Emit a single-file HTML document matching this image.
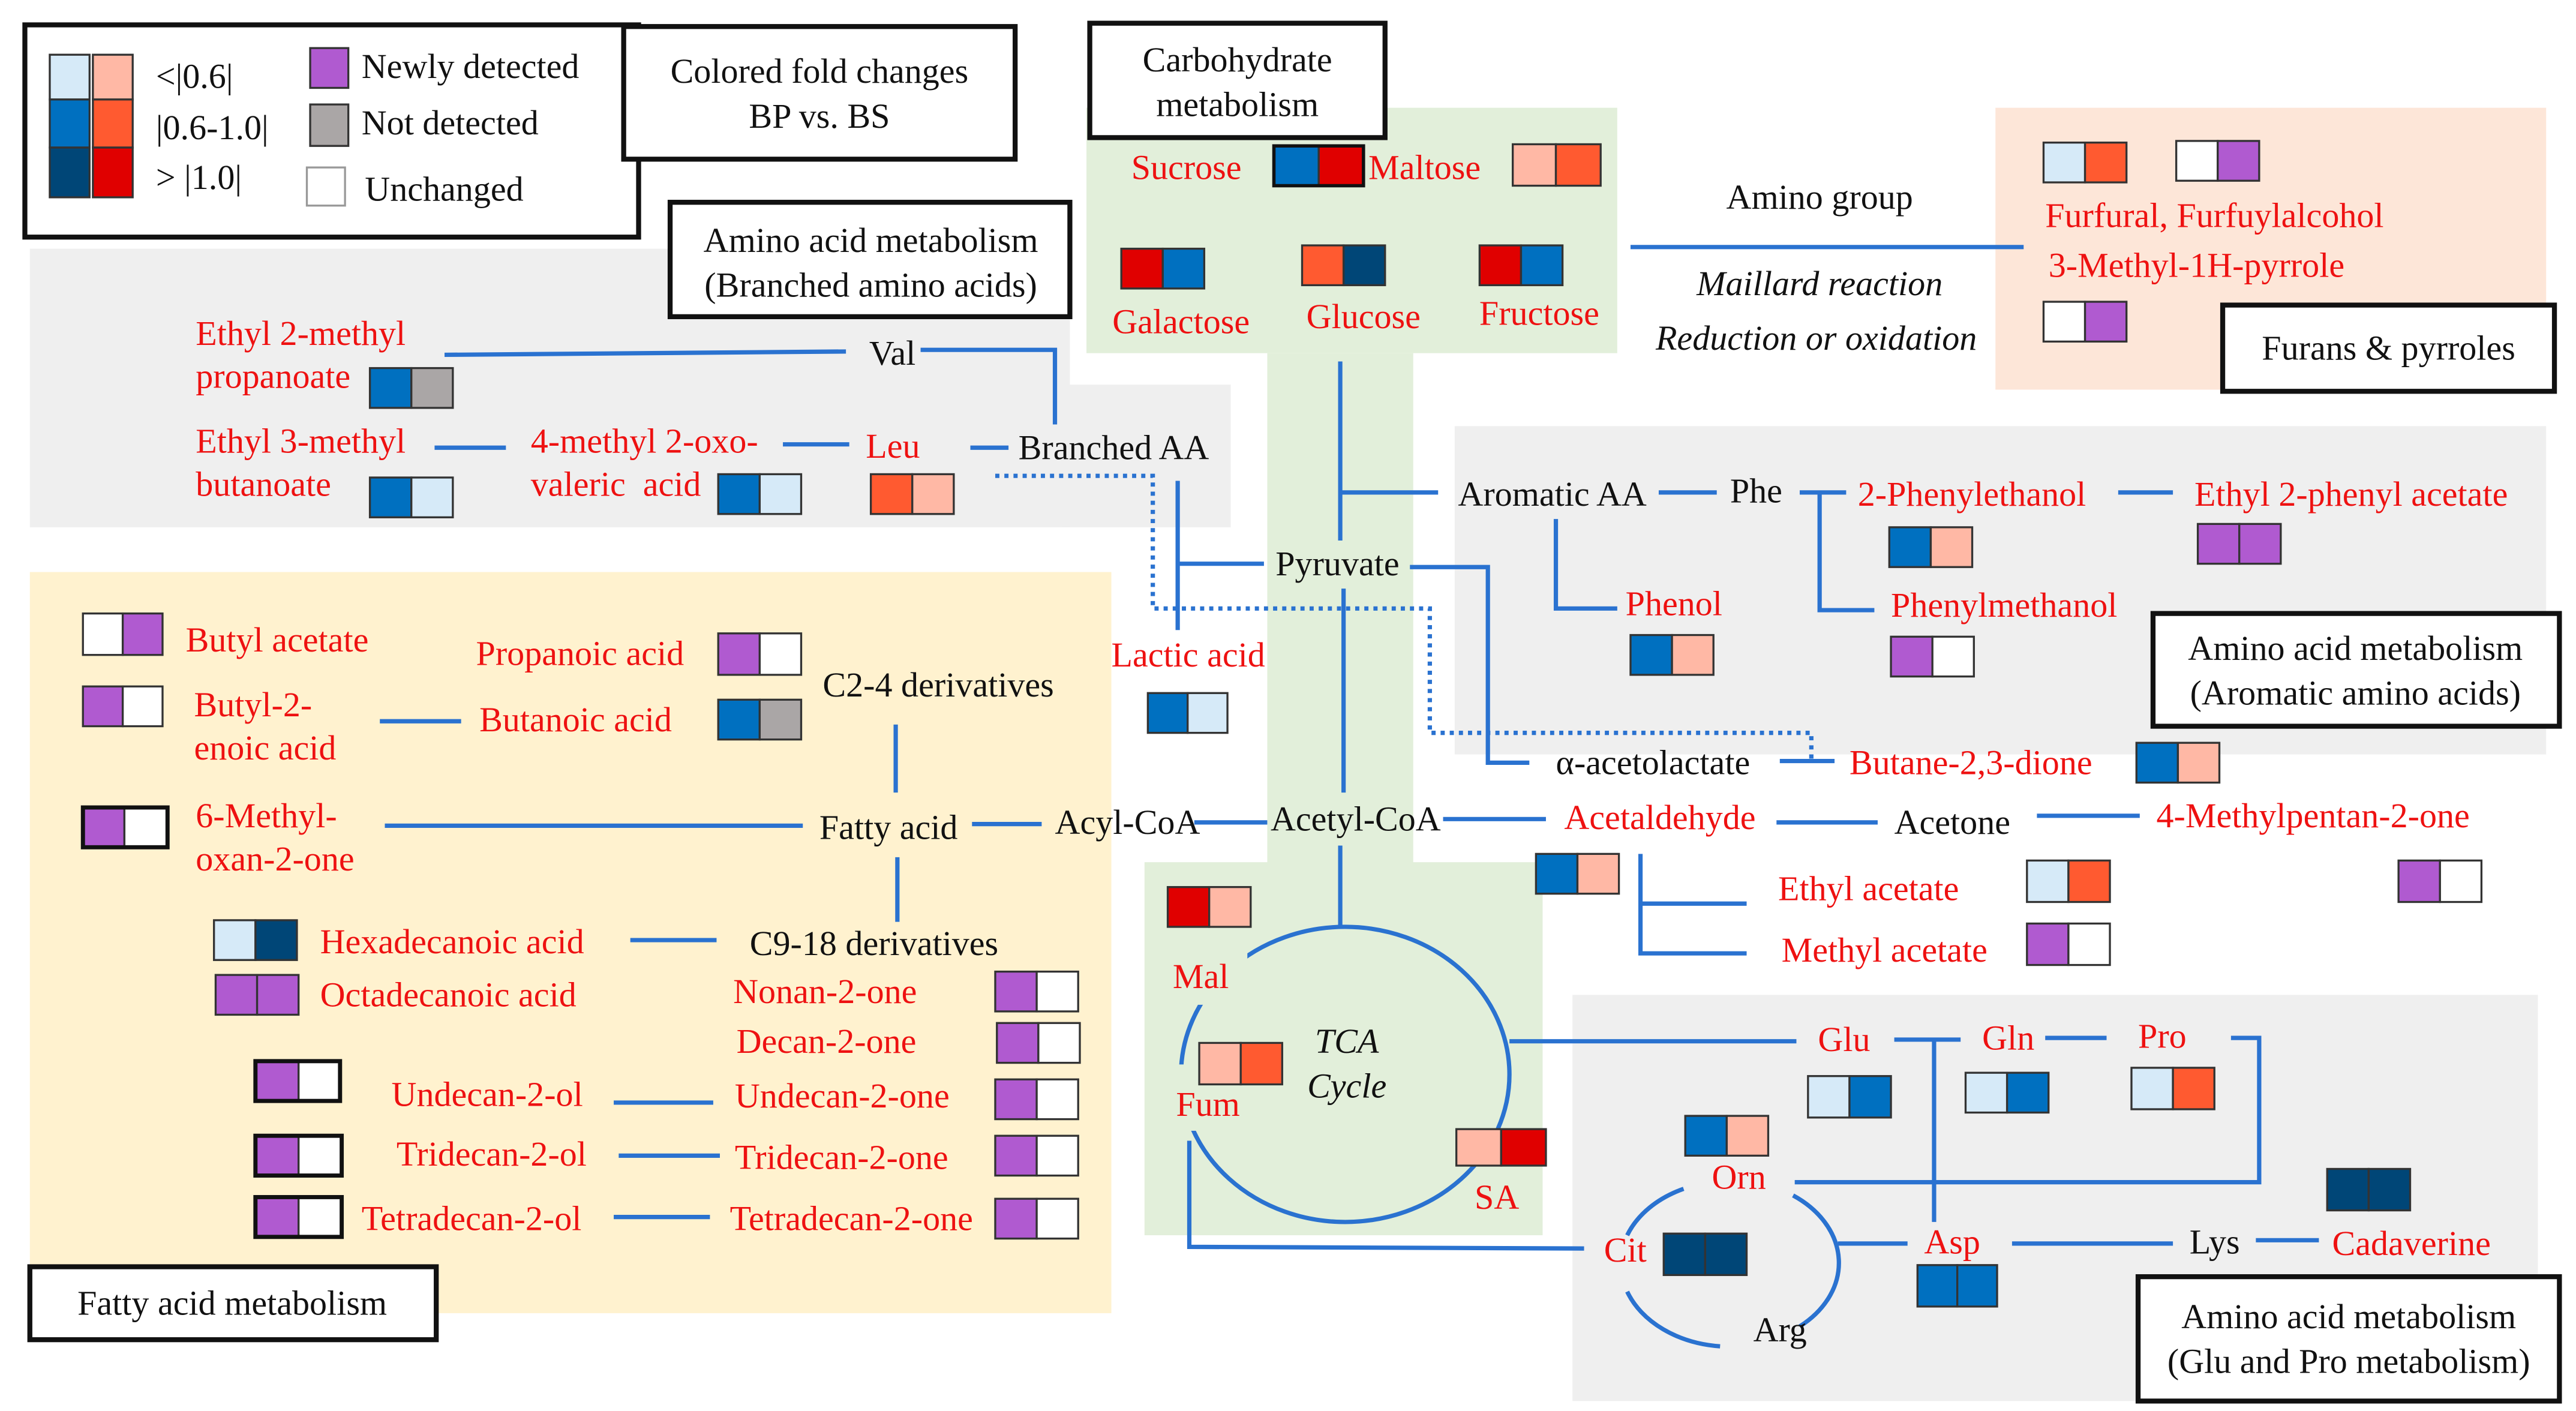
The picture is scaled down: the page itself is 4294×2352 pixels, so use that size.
<!DOCTYPE html>
<html><head><meta charset="utf-8"><style>
html,body{margin:0;padding:0;background:#fff;}
svg{display:block;}
text{font-family:"Liberation Serif","DejaVu Serif",serif;font-size:21px;}
.r{fill:#ee1111;}
.k{fill:#111;}
.i{font-style:italic;}
.l{stroke:#2a72d0;stroke-width:2.6;fill:none;}
.d{stroke:#2a72d0;stroke-width:2.6;fill:none;stroke-dasharray:2.5 3;}
.bx{fill:#fff;stroke:#111;stroke-width:3;}
.s{stroke:#333;stroke-width:1.2;}
</style></head><body>
<svg width="4294" height="2352" viewBox="0 0 1553 851" preserveAspectRatio="none" xmlns="http://www.w3.org/2000/svg">
<!-- backgrounds -->
<rect x="18" y="150" width="627" height="168" fill="#efefef"/>
<rect x="640" y="232" width="102" height="86" fill="#efefef"/>
<rect x="18" y="345" width="652" height="447" fill="#fff2cf"/>
<rect x="655" y="65" width="320" height="148" fill="#e2efda"/>
<rect x="764" y="213" width="88" height="310" fill="#e2efda"/>
<rect x="690" y="520" width="240" height="225" fill="#e2efda"/>
<rect x="877" y="257" width="658" height="198" fill="#efefef"/>
<rect x="948" y="600" width="582" height="245" fill="#efefef"/>
<rect x="1203" y="65" width="332" height="170" fill="#fde6d8"/>

<!-- legend -->
<rect class="bx" x="15" y="15" width="370" height="128"/>
<rect x="30" y="33" width="24" height="27" fill="#d6eaf8" class="s"/>
<rect x="56" y="33" width="24" height="27" fill="#ffb8a5" class="s"/>
<rect x="30" y="60" width="24" height="29" fill="#0070c0" class="s"/>
<rect x="56" y="60" width="24" height="29" fill="#ff5a30" class="s"/>
<rect x="30" y="89" width="24" height="30" fill="#004677" class="s"/>
<rect x="56" y="89" width="24" height="30" fill="#e00000" class="s"/>
<text x="94" y="53" class="k">&lt;|0.6|</text>
<text x="94" y="84" class="k">|0.6-1.0|</text>
<text x="94" y="114" class="k">&gt; |1.0|</text>
<rect x="187" y="29" width="23" height="24" fill="#b05ad0" class="s"/>
<rect x="187" y="63" width="23" height="25" fill="#aaa6a6" class="s"/>
<rect x="185" y="101" width="23" height="23" fill="#fff" stroke="#999" stroke-width="1.2"/>
<text x="218" y="47" class="k">Newly detected</text>
<text x="218" y="81" class="k">Not detected</text>
<text x="220" y="121" class="k">Unchanged</text>

<rect class="bx" x="376" y="16" width="236" height="80"/>
<text x="494" y="50" class="k" text-anchor="middle">Colored fold changes</text>
<text x="494" y="77" class="k" text-anchor="middle">BP vs. BS</text>

<rect class="bx" x="657" y="14" width="178" height="69"/>
<text x="746" y="43" class="k" text-anchor="middle">Carbohydrate</text>
<text x="746" y="70" class="k" text-anchor="middle">metabolism</text>

<rect class="bx" x="404" y="122" width="241" height="69"/>
<text x="525" y="152" class="k" text-anchor="middle">Amino acid metabolism</text>
<text x="525" y="179" class="k" text-anchor="middle">(Branched amino acids)</text>

<!-- carbohydrates -->
<text x="682" y="108" class="r">Sucrose</text>
<rect x="768" y="88" width="27" height="24" fill="#0070c0" class="s"/><rect x="795" y="88" width="27" height="24" fill="#e00000" class="s"/>
<rect x="768" y="88" width="54" height="24" fill="none" stroke="#111" stroke-width="2"/>
<text x="825" y="108" class="r">Maltose</text>
<rect x="912" y="87" width="26" height="25" fill="#ffb8a5" class="s"/><rect x="938" y="87" width="27" height="25" fill="#ff5a30" class="s"/>
<rect x="676" y="150" width="25" height="24" fill="#e00000" class="s"/><rect x="701" y="150" width="25" height="24" fill="#0070c0" class="s"/>
<text x="712" y="201" class="r" text-anchor="middle">Galactose</text>
<rect x="785" y="148" width="25" height="24" fill="#ff5a30" class="s"/><rect x="810" y="148" width="25" height="24" fill="#004677" class="s"/>
<text x="822" y="198" class="r" text-anchor="middle">Glucose</text>
<rect x="892" y="148" width="25" height="24" fill="#e00000" class="s"/><rect x="917" y="148" width="25" height="24" fill="#0070c0" class="s"/>
<text x="928" y="196" class="r" text-anchor="middle">Fructose</text>

<!-- branched AA -->
<text x="118" y="208" class="r">Ethyl 2-methyl</text>
<text x="118" y="234" class="r">propanoate</text>
<rect x="223" y="222" width="25" height="24" fill="#0070c0" class="s"/><rect x="248" y="222" width="25" height="24" fill="#aaa6a6" class="s"/>
<path class="l" d="M268,214 L510,212"/>
<text x="524" y="220" class="k">Val</text>
<path class="l" d="M555,211 L636,211 L636,256"/>
<text x="118" y="273" class="r">Ethyl 3-methyl</text>
<text x="118" y="299" class="r">butanoate</text>
<rect x="223" y="288" width="25" height="24" fill="#0070c0" class="s"/><rect x="248" y="288" width="25" height="24" fill="#d6eaf8" class="s"/>
<path class="l" d="M262,270 L305,270"/>
<text x="320" y="273" class="r">4-methyl 2-oxo-</text>
<text x="320" y="299" class="r" xml:space="preserve">valeric  acid</text>
<rect x="433" y="286" width="25" height="24" fill="#0070c0" class="s"/><rect x="458" y="286" width="25" height="24" fill="#d6eaf8" class="s"/>
<path class="l" d="M472,268 L512,268"/>
<text x="522" y="276" class="r">Leu</text>
<rect x="525" y="286" width="25" height="24" fill="#ff5a30" class="s"/><rect x="550" y="286" width="25" height="24" fill="#ffb8a5" class="s"/>
<path class="l" d="M585,270 L608,270"/>
<text x="614" y="277" class="k">Branched AA</text>

<!-- dotted path -->
<path class="d" d="M600,287 L695,287 L695,367 L862,367 L862,442 L1092,442 L1092,458"/>

<!-- pyruvate etc -->
<path class="l" d="M808,218 L808,326"/>
<path class="l" d="M808,297 L867,297"/>
<path class="l" d="M710,290 L710,380"/>
<path class="l" d="M710,340 L762,340"/>
<text x="769" y="347" class="k">Pyruvate</text>
<path class="l" d="M850,342 L897,342 L897,460 L922,460"/>
<text x="938" y="467" class="k">α-acetolactate</text>
<path class="l" d="M1073,459 L1106,459"/>
<text x="1115" y="467" class="r">Butane-2,3-dione</text>
<rect x="1288" y="448" width="25" height="24" fill="#0070c0" class="s"/><rect x="1313" y="448" width="25" height="24" fill="#ffb8a5" class="s"/>
<path class="l" d="M810,355 L810,478"/>
<text x="670" y="402" class="r">Lactic acid</text>
<rect x="692" y="418" width="24" height="24" fill="#0070c0" class="s"/><rect x="716" y="418" width="24" height="24" fill="#d6eaf8" class="s"/>
<text x="766" y="501" class="k">Acetyl-CoA</text>
<path class="l" d="M720,496 L764,496"/>
<text x="636" y="503" class="k">Acyl-CoA</text>
<path class="l" d="M586,497 L628,497"/>
<path class="l" d="M870,494 L932,494"/>
<text x="943" y="500" class="r">Acetaldehyde</text>
<rect x="926" y="515" width="25" height="24" fill="#0070c0" class="s"/><rect x="951" y="515" width="25" height="24" fill="#ffb8a5" class="s"/>
<path class="l" d="M1071,496 L1132,496"/>
<text x="1142" y="503" class="k">Acetone</text>
<path class="l" d="M1228,492 L1290,492"/>
<text x="1300" y="499" class="r">4-Methylpentan-2-one</text>
<rect x="1446" y="519" width="25" height="25" fill="#b05ad0" class="s"/><rect x="1471" y="519" width="25" height="25" fill="#fff" class="s"/>
<path class="l" d="M989,515 L989,575 L1053,575 M989,545 L1053,545"/>
<text x="1072" y="543" class="r">Ethyl acetate</text>
<rect x="1222" y="519" width="25" height="25" fill="#d6eaf8" class="s"/><rect x="1247" y="519" width="25" height="25" fill="#ff5a30" class="s"/>
<text x="1074" y="580" class="r">Methyl acetate</text>
<rect x="1222" y="557" width="25" height="25" fill="#b05ad0" class="s"/><rect x="1247" y="557" width="25" height="25" fill="#fff" class="s"/>

<!-- TCA -->
<path class="l" d="M808,510 L808,559"/>
<ellipse class="l" cx="811" cy="648" rx="99" ry="89"/>
<rect x="696" y="570" width="56" height="36" fill="#e2efda"/>
<rect x="698" y="642" width="62" height="40" fill="#e2efda"/>
<rect x="704" y="535" width="25" height="24" fill="#e00000" class="s"/><rect x="729" y="535" width="25" height="24" fill="#ffb8a5" class="s"/>
<text x="707" y="596" class="r">Mal</text>
<rect x="723" y="629" width="25" height="25" fill="#ffb8a5" class="s"/><rect x="748" y="629" width="25" height="25" fill="#ff5a30" class="s"/>
<text x="709" y="673" class="r">Fum</text>
<text x="812" y="635" class="k i" text-anchor="middle">TCA</text>
<text x="812" y="662" class="k i" text-anchor="middle">Cycle</text>
<rect x="878" y="681" width="27" height="22" fill="#ffb8a5" class="s"/><rect x="905" y="681" width="27" height="22" fill="#e00000" class="s"/>
<text x="889" y="729" class="r">SA</text>
<path class="l" d="M717,688 L717,752 L955,753"/>

<!-- Glu / Pro -->
<path class="l" d="M910,628 L1083,628"/>
<text x="1096" y="634" class="r">Glu</text>
<rect x="1090" y="649" width="25" height="25" fill="#d6eaf8" class="s"/><rect x="1115" y="649" width="25" height="25" fill="#0070c0" class="s"/>
<path class="l" d="M1142,627 L1182,627 M1166,627 L1166,737"/>
<text x="1195" y="633" class="r">Gln</text>
<rect x="1185" y="647" width="25" height="24" fill="#d6eaf8" class="s"/><rect x="1210" y="647" width="25" height="24" fill="#0070c0" class="s"/>
<path class="l" d="M1233,626 L1270,626"/>
<text x="1289" y="632" class="r">Pro</text>
<rect x="1285" y="644" width="25" height="25" fill="#d6eaf8" class="s"/><rect x="1310" y="644" width="25" height="25" fill="#ff5a30" class="s"/>
<path class="l" d="M1345,626 L1362,626 L1362,713 L1082,713"/>
<rect x="1016" y="673" width="25" height="24" fill="#0070c0" class="s"/><rect x="1041" y="673" width="25" height="24" fill="#ffb8a5" class="s"/>
<text x="1032" y="717" class="r">Orn</text>
<path class="l" d="M1081,721 A66,50 0 0 1 1085,800"/>
<path class="l" d="M1037,812 A66,50 0 0 1 981,779"/>
<path class="l" d="M981,745 A66,50 0 0 1 1015,717"/>
<text x="967" y="761" class="r">Cit</text>
<rect x="1003" y="744" width="25" height="25" fill="#004677" class="s"/><rect x="1028" y="744" width="25" height="25" fill="#004677" class="s"/>
<text x="1057" y="809" class="k">Arg</text>
<path class="l" d="M1108,750 L1150,750"/>
<text x="1160" y="756" class="r">Asp</text>
<rect x="1156" y="763" width="24" height="25" fill="#0070c0" class="s"/><rect x="1180" y="763" width="24" height="25" fill="#0070c0" class="s"/>
<path class="l" d="M1213,750 L1310,750"/>
<text x="1320" y="756" class="k">Lys</text>
<path class="l" d="M1360,748 L1398,748"/>
<text x="1406" y="757" class="r">Cadaverine</text>
<rect x="1403" y="705" width="25" height="25" fill="#004677" class="s"/><rect x="1428" y="705" width="25" height="25" fill="#004677" class="s"/>
<rect class="bx" x="1289" y="770" width="254" height="75"/>
<text x="1416" y="801" class="k" text-anchor="middle">Amino acid metabolism</text>
<text x="1416" y="828" class="k" text-anchor="middle">(Glu and Pro metabolism)</text>

<!-- aromatic -->
<text x="879" y="305" class="k">Aromatic AA</text>
<path class="l" d="M1000,297 L1035,297"/>
<text x="1043" y="303" class="k">Phe</text>
<path class="l" d="M1085,297 L1113,297 M1097,297 L1097,368 L1130,368"/>
<text x="1120" y="305" class="r">2-Phenylethanol</text>
<rect x="1139" y="318" width="25" height="24" fill="#0070c0" class="s"/><rect x="1164" y="318" width="25" height="24" fill="#ffb8a5" class="s"/>
<path class="l" d="M1277,297 L1310,297"/>
<text x="1323" y="305" class="r">Ethyl 2-phenyl acetate</text>
<rect x="1325" y="316" width="25" height="24" fill="#b05ad0" class="s"/><rect x="1350" y="316" width="25" height="24" fill="#b05ad0" class="s"/>
<text x="1140" y="372" class="r">Phenylmethanol</text>
<rect x="1140" y="384" width="25" height="24" fill="#b05ad0" class="s"/><rect x="1165" y="384" width="25" height="24" fill="#fff" class="s"/>
<path class="l" d="M938,313 L938,367 L975,367"/>
<text x="980" y="371" class="r">Phenol</text>
<rect x="983" y="383" width="25" height="24" fill="#0070c0" class="s"/><rect x="1008" y="383" width="25" height="24" fill="#ffb8a5" class="s"/>
<rect class="bx" x="1298" y="370" width="245" height="68"/>
<text x="1420" y="398" class="k" text-anchor="middle">Amino acid metabolism</text>
<text x="1420" y="425" class="k" text-anchor="middle">(Aromatic amino acids)</text>

<!-- Maillard / furans -->
<text x="1097" y="126" class="k" text-anchor="middle">Amino group</text>
<path class="l" d="M983,149 L1220,149"/>
<text x="1097" y="178" class="k i" text-anchor="middle">Maillard reaction</text>
<text x="1095" y="211" class="k i" text-anchor="middle">Reduction or oxidation</text>
<rect x="1232" y="86" width="25" height="24" fill="#d6eaf8" class="s"/><rect x="1257" y="86" width="25" height="24" fill="#ff5a30" class="s"/>
<rect x="1312" y="85" width="25" height="24" fill="#fff" class="s"/><rect x="1337" y="85" width="25" height="24" fill="#b05ad0" class="s"/>
<text x="1233" y="137" class="r">Furfural, Furfuylalcohol</text>
<text x="1235" y="167" class="r">3-Methyl-1H-pyrrole</text>
<rect x="1232" y="182" width="25" height="24" fill="#fff" class="s"/><rect x="1257" y="182" width="25" height="24" fill="#b05ad0" class="s"/>
<rect class="bx" x="1340" y="184" width="200" height="52"/>
<text x="1440" y="217" class="k" text-anchor="middle">Furans &amp; pyrroles</text>

<!-- fatty acids -->
<rect x="50" y="370" width="24" height="25" fill="#fff" class="s"/><rect x="74" y="370" width="24" height="25" fill="#b05ad0" class="s"/>
<text x="112" y="393" class="r">Butyl acetate</text>
<rect x="50" y="414" width="24" height="24" fill="#b05ad0" class="s"/><rect x="74" y="414" width="24" height="24" fill="#fff" class="s"/>
<text x="117" y="432" class="r">Butyl-2-</text>
<text x="117" y="458" class="r">enoic acid</text>
<path class="l" d="M229,435 L278,435"/>
<text x="289" y="441" class="r">Butanoic acid</text>
<rect x="433" y="422" width="25" height="24" fill="#0070c0" class="s"/><rect x="458" y="422" width="25" height="24" fill="#aaa6a6" class="s"/>
<text x="287" y="401" class="r">Propanoic acid</text>
<rect x="433" y="382" width="25" height="25" fill="#b05ad0" class="s"/><rect x="458" y="382" width="25" height="25" fill="#fff" class="s"/>
<text x="496" y="420" class="k">C2-4 derivatives</text>
<path class="l" d="M540,437 L540,478"/>
<rect x="50" y="487" width="25" height="24" fill="#b05ad0" class="s"/><rect x="75" y="487" width="26" height="24" fill="#fff" class="s"/>
<rect x="50" y="487" width="51" height="24" fill="none" stroke="#111" stroke-width="2.5"/>
<text x="118" y="499" class="r">6-Methyl-</text>
<text x="118" y="525" class="r">oxan-2-one</text>
<path class="l" d="M232,498 L484,498"/>
<text x="494" y="506" class="k">Fatty acid</text>
<path class="l" d="M541,517 L541,556"/>
<text x="452" y="576" class="k">C9-18 derivatives</text>
<rect x="129" y="555" width="25" height="24" fill="#d6eaf8" class="s"/><rect x="154" y="555" width="25" height="24" fill="#004677" class="s"/>
<text x="193" y="575" class="r">Hexadecanoic acid</text>
<path class="l" d="M380,567 L432,567"/>
<rect x="130" y="588" width="25" height="24" fill="#b05ad0" class="s"/><rect x="155" y="588" width="25" height="24" fill="#b05ad0" class="s"/>
<text x="193" y="607" class="r">Octadecanoic acid</text>
<text x="442" y="605" class="r">Nonan-2-one</text>
<rect x="600" y="586" width="25" height="24" fill="#b05ad0" class="s"/><rect x="625" y="586" width="25" height="24" fill="#fff" class="s"/>
<text x="444" y="635" class="r">Decan-2-one</text>
<rect x="601" y="617" width="25" height="24" fill="#b05ad0" class="s"/><rect x="626" y="617" width="25" height="24" fill="#fff" class="s"/>
<rect x="154" y="640" width="26" height="24" fill="#b05ad0" class="s"/><rect x="180" y="640" width="25" height="24" fill="#fff" class="s"/>
<rect x="154" y="640" width="51" height="24" fill="none" stroke="#111" stroke-width="2.5"/>
<text x="236" y="667" class="r">Undecan-2-ol</text>
<path class="l" d="M370,665 L430,665"/>
<text x="443" y="668" class="r">Undecan-2-one</text>
<rect x="600" y="651" width="25" height="24" fill="#b05ad0" class="s"/><rect x="625" y="651" width="25" height="24" fill="#fff" class="s"/>
<rect x="154" y="685" width="26" height="24" fill="#b05ad0" class="s"/><rect x="180" y="685" width="26" height="24" fill="#fff" class="s"/>
<rect x="154" y="685" width="52" height="24" fill="none" stroke="#111" stroke-width="2.5"/>
<text x="239" y="703" class="r">Tridecan-2-ol</text>
<path class="l" d="M373,697 L434,697"/>
<text x="443" y="705" class="r">Tridecan-2-one</text>
<rect x="600" y="685" width="25" height="24" fill="#b05ad0" class="s"/><rect x="625" y="685" width="25" height="24" fill="#fff" class="s"/>
<rect x="154" y="722" width="26" height="24" fill="#b05ad0" class="s"/><rect x="180" y="722" width="26" height="24" fill="#fff" class="s"/>
<rect x="154" y="722" width="52" height="24" fill="none" stroke="#111" stroke-width="2.5"/>
<text x="218" y="742" class="r">Tetradecan-2-ol</text>
<path class="l" d="M370,734 L428,734"/>
<text x="440" y="742" class="r">Tetradecan-2-one</text>
<rect x="600" y="723" width="25" height="24" fill="#b05ad0" class="s"/><rect x="625" y="723" width="25" height="24" fill="#fff" class="s"/>
<rect class="bx" x="18" y="764" width="245" height="44"/>
<text x="140" y="793" class="k" text-anchor="middle">Fatty acid metabolism</text>
</svg>
</body></html>
